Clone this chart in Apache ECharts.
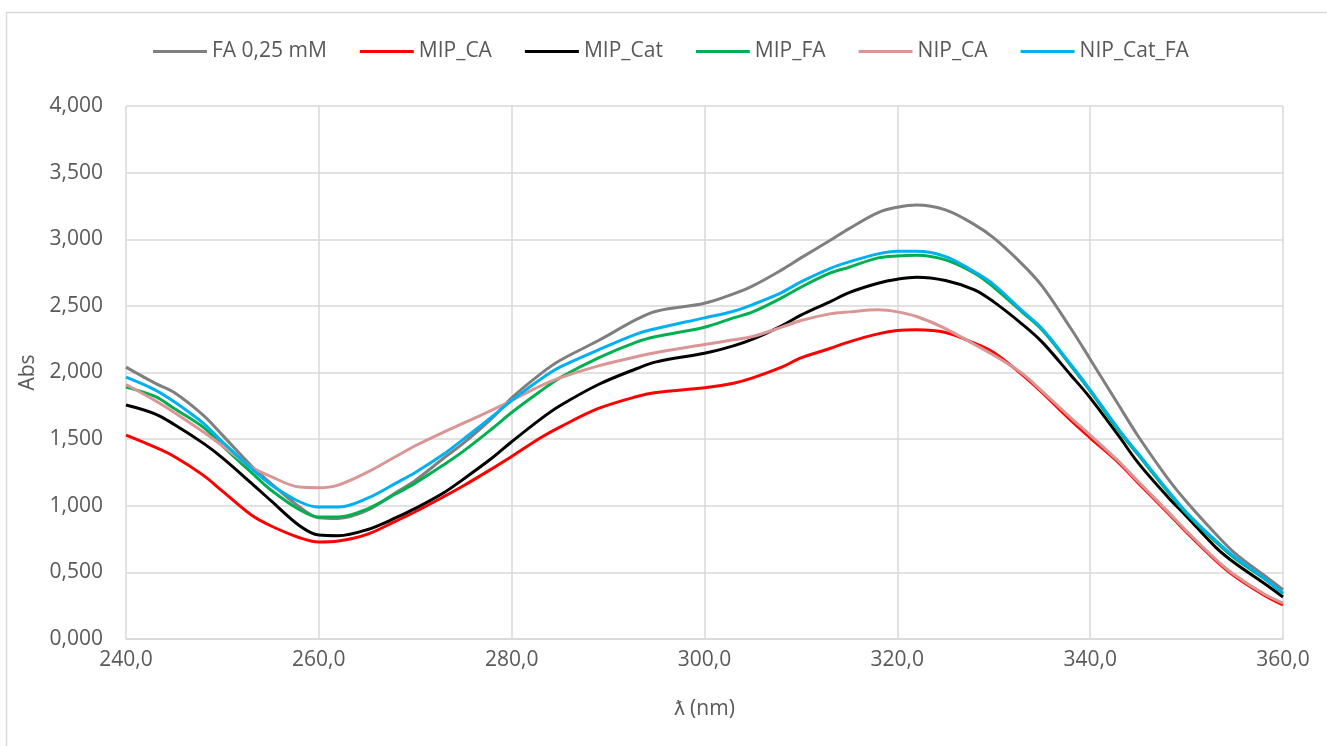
<!DOCTYPE html>
<html>
<head>
<meta charset="utf-8">
<script src="https://cdn.jsdelivr.net/npm/echarts@6/dist/echarts.min.js"></script>
<style>
  html, body { margin: 0; padding: 0; background: #fff; }
  #main { width: 1327px; height: 746px; }
</style>
</head>
<body>
<div id="main"></div>
<script>
// wavelengths (nm)
const wl = [240, 243, 245, 248, 250, 253, 255, 258, 260, 262, 265, 268, 270, 273, 275, 278, 280, 283, 285, 289,
  293, 295, 300, 303, 305, 308, 310, 313, 315, 318, 320, 322, 325, 328, 330, 333, 335, 338, 340, 343, 345, 348,
  350, 353, 355, 358, 360];

const fa025 = [2.04, 1.92, 1.85, 1.68, 1.53, 1.30, 1.17, 0.99, 0.91, 0.905, 0.965, 1.10, 1.19, 1.36, 1.47, 1.66, 1.81, 1.99, 2.09, 2.24,
  2.40, 2.46, 2.52, 2.59, 2.65, 2.77, 2.86, 2.99, 3.08, 3.20, 3.24, 3.257, 3.22, 3.11, 3.01, 2.81, 2.65, 2.33, 2.10, 1.75, 1.52, 1.21,
  1.03, 0.79, 0.645, 0.48, 0.37];
const mipCA = [1.53, 1.44, 1.37, 1.23, 1.11, 0.93, 0.85, 0.76, 0.728, 0.735, 0.785, 0.885, 0.955, 1.07, 1.15, 1.28, 1.37, 1.51, 1.59, 1.73,
  1.82, 1.85, 1.885, 1.92, 1.96, 2.04, 2.11, 2.18, 2.23, 2.29, 2.315, 2.32, 2.30, 2.22, 2.15, 1.98, 1.85, 1.64, 1.51, 1.32, 1.17, 0.95,
  0.80, 0.59, 0.47, 0.33, 0.255];
const mipCat = [1.756, 1.69, 1.61, 1.47, 1.36, 1.17, 1.04, 0.85, 0.78, 0.775, 0.82, 0.91, 0.98, 1.10, 1.20, 1.36, 1.48, 1.65, 1.75, 1.91,
  2.03, 2.08, 2.145, 2.20, 2.25, 2.35, 2.43, 2.53, 2.60, 2.67, 2.70, 2.715, 2.69, 2.62, 2.53, 2.36, 2.23, 1.98, 1.81, 1.52, 1.32, 1.07,
  0.92, 0.69, 0.57, 0.42, 0.315];
const mipFA = [1.89, 1.82, 1.73, 1.59, 1.45, 1.25, 1.12, 0.97, 0.915, 0.915, 0.975, 1.09, 1.17, 1.31, 1.41, 1.58, 1.70, 1.86, 1.96, 2.11,
  2.23, 2.27, 2.34, 2.41, 2.455, 2.56, 2.64, 2.745, 2.79, 2.86, 2.875, 2.88, 2.845, 2.745, 2.64, 2.45, 2.32, 2.05, 1.86, 1.56, 1.38, 1.11,
  0.94, 0.73, 0.605, 0.455, 0.34];
const nipCA = [1.91, 1.79, 1.70, 1.555, 1.45, 1.29, 1.22, 1.14, 1.135, 1.155, 1.25, 1.37, 1.45, 1.555, 1.62, 1.72, 1.79, 1.90, 1.96, 2.05,
  2.12, 2.15, 2.21, 2.245, 2.27, 2.34, 2.39, 2.44, 2.455, 2.47, 2.455, 2.42, 2.33, 2.21, 2.13, 1.99, 1.86, 1.66, 1.53, 1.33, 1.18, 0.96,
  0.81, 0.60, 0.48, 0.34, 0.27];
const nipCatFA = [1.965, 1.87, 1.78, 1.62, 1.48, 1.28, 1.16, 1.03, 0.99, 0.99, 1.055, 1.17, 1.25, 1.39, 1.50, 1.67, 1.79, 1.95, 2.04, 2.17,
  2.29, 2.33, 2.41, 2.46, 2.51, 2.60, 2.68, 2.78, 2.83, 2.89, 2.91, 2.91, 2.87, 2.755, 2.66, 2.46, 2.33, 2.06, 1.87, 1.57, 1.39, 1.12,
  0.95, 0.74, 0.615, 0.46, 0.345];

const names = ['FA 0,25 mM', 'MIP_CA', 'MIP_Cat', 'MIP_FA', 'NIP_CA', 'NIP_Cat_FA'];
const colors = ['#7f7f7f', '#ff0000', '#000000', '#00b050', '#da9694', '#00b0f0'];
const values = [fa025, mipCA, mipCat, mipFA, nipCA, nipCatFA];

const font = '"Open Sans", sans-serif';
const txt = '#595959';
const comma = (v, d) => v.toFixed(d).replace('.', ',');

const series = names.map((n, i) => ({
  name: n,
  type: 'line',
  smooth: 0.35,
  symbol: 'none',
  color: colors[i],
  lineStyle: { width: 3, color: colors[i] },
  data: wl.map((x, j) => [x, values[i][j]])
}));

const myChart = echarts.init(document.getElementById('main'));
myChart.setOption({
  animation: false,
  backgroundColor: '#fff',
  graphic: [{
    type: 'rect',
    shape: { x: 6.5, y: 12.5, width: 1400, height: 800 },
    style: { fill: 'none', stroke: '#d9d9d9', lineWidth: 1.5 },
    silent: true
  }],
  legend: {
    top: 36,
    left: 148,
    icon: 'rect',
    itemWidth: 54,
    itemHeight: 3,
    itemGap: 33,
    textStyle: { fontFamily: font, fontSize: 21, color: txt },
    data: names
  },
  grid: { left: 126, right: 44, top: 106, bottom: 107 },
  xAxis: {
    type: 'value',
    min: 240, max: 360, interval: 20,
    name: 'ƛ (nm)',
    nameLocation: 'middle',
    nameGap: 60,
    nameTextStyle: { fontFamily: font, fontSize: 21, color: txt },
    axisLine: { show: true, lineStyle: { color: '#d9d9d9', width: 1.5 } },
    axisTick: { show: false },
    axisLabel: { fontFamily: font, fontSize: 21, color: txt, margin: 11, formatter: v => comma(v, 1) },
    splitLine: { show: true, lineStyle: { color: '#d9d9d9', width: 1.5 } }
  },
  yAxis: {
    type: 'value',
    min: 0, max: 4, interval: 0.5,
    name: 'Abs',
    nameLocation: 'middle',
    nameGap: 84,
    nameTextStyle: { fontFamily: font, fontSize: 21, color: txt },
    axisLine: { show: false },
    axisTick: { show: false },
    axisLabel: { fontFamily: font, fontSize: 21, color: txt, margin: 23, formatter: v => comma(v, 3) },
    splitLine: { show: true, lineStyle: { color: '#d9d9d9', width: 1.5 } }
  },
  series: series
});
</script>
</body>
</html>
